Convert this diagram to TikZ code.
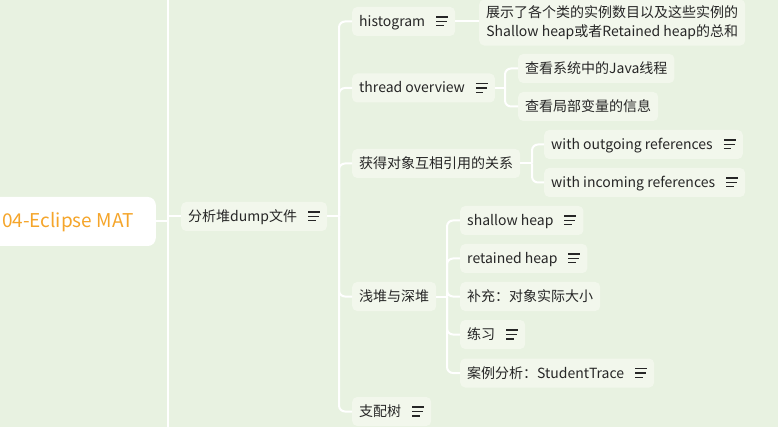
\documentclass[tikz,border=0pt]{standalone}
\usepackage{fontspec}
\setmainfont{Noto Sans CJK SC}
\usetikzlibrary{positioning}

\definecolor{mapbg}{HTML}{E8F2E1}
\definecolor{topicfill}{HTML}{F2F7EC}
\definecolor{rootorange}{HTML}{F5A52A}
\definecolor{inkgray}{HTML}{262626}

% small "notes" mark behind a topic
\newcommand{\noteicon}{\hspace{11pt}\raisebox{0pt}{\vbox{\hrule width 12pt height 1.4pt\vskip 3pt\hrule width 11pt height 1.4pt\vskip 3pt\hrule width 7.5pt height 1.4pt}}}

\begin{document}
\begin{tikzpicture}[
        x=1pt, y=-1pt,
        topic/.style={fill=topicfill, rounded corners=5pt, anchor=west,
            minimum height=29pt, inner xsep=7pt, inner ysep=0pt,
            text height=11.5pt, text depth=1.5pt, text=inkgray,
            font=\fontsize{14}{17}\selectfont},
        notebox/.style={topic, align=center, text height=, text depth=,
            inner ysep=6pt, font=\fontsize{14}{19}\selectfont},
        central/.style={fill=white, rounded corners=8pt, anchor=east,
            minimum height=49pt, inner xsep=22pt, text=rootorange,
            text height=15pt, text depth=3pt,
            font=\fontsize{19}{23}\selectfont},
        trunk/.style={draw=white, line width=2pt},
        branch/.style={draw=white, line width=2pt, rounded corners=6pt},
    ]
        \fill[mapbg] (0,0) rectangle (778,427);
        \clip (0,0) rectangle (778,427);

        % root and first level
        \node[central] (root) at (156,221.5) {04-Eclipse MAT};
        \node[topic] (dump) at (181,216.5) {分析堆dump文件\noteicon};

        % second level
        \node[topic] (hist) at (352,21.5) {histogram\noteicon};
        \node[topic] (thread) at (352,88) {thread overview\noteicon};
        \node[topic] (refs) at (352,163.5) {获得对象互相引用的关系};
        \node[topic] (heaps) at (352,296.5) {浅堆与深堆};
        \node[topic] (domtree) at (352,411.5) {支配树\noteicon};

        % third level
        \node[notebox] (histnote) at (479,22.5) {展示了各个类的实例数目以及这些实例的\\Shallow heap或者Retained heap的总和};
        \node[topic] (javathr) at (518,68.5) {查看系统中的Java线程};
        \node[topic] (locvars) at (518,106.5) {查看局部变量的信息};
        \node[topic] (outref) at (544,144.5) {with outgoing references\noteicon};
        \node[topic] (inref) at (544,182.5) {with incoming references\noteicon};
        \node[topic] (shallow) at (460,220.5) {shallow heap\noteicon};
        \node[topic] (retained) at (460,258.5) {retained heap\noteicon};
        \node[topic] (realsize) at (460,296.5) {补充：对象实际大小};
        \node[topic] (practice) at (460,334.5) {练习\noteicon};
        \node[topic] (casestudy) at (460,373) {案例分析：StudentTrace\noteicon};

        % junctions
        \coordinate (mapTop) at (168,0);
        \coordinate (mapBottom) at (168,427);
        \coordinate (dumpJ) at (339,216.5);
        \coordinate (threadJ) at (505,88);
        \coordinate (refsJ) at (532,163.5);
        \coordinate (heapsJ) at (447,296.5);

        % connectors
        \draw[trunk] (mapTop) -- (mapBottom);
        \draw[trunk] (root.east) -- (root.east -| mapTop);
        \draw[trunk] (mapTop |- dump.west) -- (dump.west);

        \draw[trunk] (dump.east) -- (dumpJ);
        \draw[branch] (dumpJ) |- (hist.west);
        \draw[branch] (dumpJ) |- (thread.west);
        \draw[branch] (dumpJ) |- (refs.west);
        \draw[branch] (dumpJ) |- (heaps.west);
        \draw[branch] (dumpJ) |- (domtree.west);

        \draw[trunk] (hist.east) -- (hist.east -| histnote.west);

        \draw[trunk] (thread.east) -- (threadJ);
        \draw[branch] (threadJ) |- (javathr.west);
        \draw[branch] (threadJ) |- (locvars.west);

        \draw[trunk] (refs.east) -- (refsJ);
        \draw[branch] (refsJ) |- (outref.west);
        \draw[branch] (refsJ) |- (inref.west);

        \draw[trunk] (heaps.east) -- (heapsJ);
        \draw[branch] (heapsJ) |- (shallow.west);
        \draw[branch] (heapsJ) |- (retained.west);
        \draw[branch] (heapsJ) |- (realsize.west);
        \draw[branch] (heapsJ) |- (practice.west);
        \draw[branch] (heapsJ) |- (casestudy.west);
\end{tikzpicture}
\end{document}
